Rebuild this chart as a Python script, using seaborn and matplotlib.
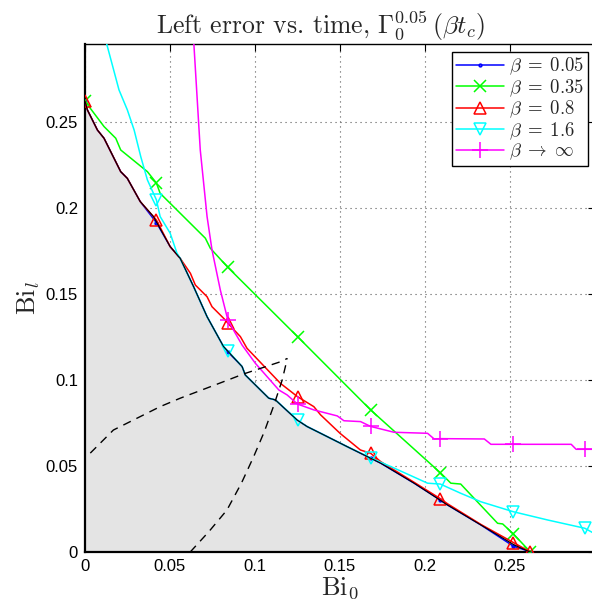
import numpy as np
import matplotlib
matplotlib.use("Agg")
import matplotlib.pyplot as plt
import seaborn as sns

# ---------------- data ----------------
bound_x = [0, 0.0014, 0.0073, 0.0112, 0.021, 0.0249, 0.0325, 0.0403, 0.0501, 0.056,
           0.0639, 0.0718, 0.0815, 0.0924, 0.0943, 0.1081, 0.112, 0.1248, 0.1307,
           0.1386, 0.1543, 0.174, 0.1936, 0.2133, 0.2329, 0.2525, 0.2594, 0.262]
bound_y = [0.262, 0.257, 0.2453, 0.2405, 0.2211, 0.2172, 0.2037, 0.195, 0.1775, 0.1707,
           0.1542, 0.1368, 0.1194, 0.1078, 0.1029, 0.0894, 0.0884, 0.0767, 0.0729,
           0.069, 0.0612, 0.0516, 0.04, 0.0273, 0.0157, 0.0041, 0.001, 0.0]

b005_x = [0, 0.0014, 0.0073, 0.0112, 0.021, 0.0249, 0.0325, 0.042, 0.0501, 0.056,
          0.0639, 0.0718, 0.0815, 0.084, 0.0924, 0.0943, 0.1081, 0.112, 0.1248, 0.1307,
          0.1386, 0.1543, 0.168, 0.174, 0.1936, 0.209, 0.2133, 0.2329, 0.252, 0.2594, 0.262]
b005_y = [0.262, 0.257, 0.2453, 0.2405, 0.2211, 0.2172, 0.2037, 0.1915, 0.1775, 0.1707,
          0.1542, 0.1368, 0.1194, 0.1164, 0.1078, 0.1029, 0.0894, 0.0884, 0.0767, 0.0729,
          0.069, 0.0612, 0.0545, 0.0516, 0.04, 0.0302, 0.0273, 0.0157, 0.0034, 0.001, 0.0]

b035_x = [0, 0.0112, 0.0181, 0.021, 0.0367, 0.042, 0.0442, 0.0708, 0.0737, 0.084,
          0.125, 0.168, 0.209, 0.2152, 0.221, 0.2427, 0.2457, 0.252, 0.262]
b035_y = [0.262, 0.2473, 0.2405, 0.2337, 0.2211, 0.2145, 0.2085, 0.1824, 0.1766, 0.1655,
          0.1252, 0.0826, 0.0461, 0.04, 0.0395, 0.0167, 0.0163, 0.0105, 0.0]

b08_x = [0, 0.0014, 0.0073, 0.0112, 0.021, 0.0249, 0.0325, 0.042, 0.0501, 0.056,
         0.062, 0.0649, 0.0718, 0.0747, 0.0825, 0.084, 0.0914, 0.0953, 0.115, 0.125,
         0.1346, 0.1386, 0.15, 0.162, 0.168, 0.174, 0.1936, 0.209, 0.2133, 0.2329,
         0.252, 0.262]
b08_y = [0.262, 0.257, 0.2453, 0.2405, 0.2211, 0.2172, 0.2037, 0.193, 0.1775, 0.1707,
         0.162, 0.1552, 0.1484, 0.1426, 0.1349, 0.133, 0.1252, 0.1184, 0.098, 0.0903,
         0.0845, 0.0797, 0.069, 0.0593, 0.0574, 0.0525, 0.0405, 0.031, 0.028, 0.016,
         0.0055, 0.0]

b16_x = [0.0115, 0.02, 0.0249, 0.0289, 0.0328, 0.0367, 0.042, 0.0442, 0.0501, 0.0541,
         0.056, 0.0639, 0.0718, 0.0815, 0.084, 0.0924, 0.0943, 0.1081, 0.112, 0.125,
         0.1307, 0.1386, 0.1543, 0.168, 0.18, 0.2015, 0.209, 0.2211, 0.2329, 0.252,
         0.2722, 0.294, 0.3]
b16_y = [0.30, 0.2686, 0.257, 0.2453, 0.2298, 0.2163, 0.2047, 0.195, 0.1853, 0.1737,
         0.1707, 0.1542, 0.1368, 0.1194, 0.117, 0.1078, 0.1029, 0.0894, 0.0884, 0.0767,
         0.0729, 0.069, 0.0612, 0.0547, 0.0496, 0.04, 0.0395, 0.0341, 0.0292, 0.0234,
         0.0186, 0.0138, 0.0105]

binf_x = [0.0635, 0.0639, 0.0678, 0.0718, 0.0747, 0.0796, 0.084, 0.0884, 0.0924, 0.1002,
          0.114, 0.1189, 0.125, 0.1346, 0.1484, 0.1523, 0.1621, 0.168, 0.1818, 0.2015,
          0.2054, 0.209, 0.2349, 0.2388, 0.252, 0.286, 0.2889, 0.294, 0.3]
binf_y = [0.30, 0.2977, 0.2337, 0.195, 0.1756, 0.1523, 0.135, 0.1272, 0.1203, 0.1097,
          0.0942, 0.0913, 0.086, 0.0826, 0.0791, 0.0763, 0.0758, 0.073, 0.0696, 0.069,
          0.0657, 0.0659, 0.0657, 0.0626, 0.0626, 0.0626, 0.0597, 0.0597, 0.0597]

marker_x = [0, 0.042, 0.084, 0.125, 0.168, 0.209, 0.252, 0.262, 0.294]

dash1_x = [0.0, 0.0, 0.001, 0.0167, 0.0442, 0.056, 0.0815, 0.0933, 0.115, 0.119]
dash1_y = [0.0, 0.0554, 0.0554, 0.0709, 0.0845, 0.0894, 0.099, 0.1035, 0.1106, 0.1125]
dash2_x = [0.0619, 0.073, 0.0835, 0.092, 0.0992, 0.1055, 0.111, 0.116, 0.119]
dash2_y = [0.0, 0.012, 0.0244, 0.04, 0.0554, 0.07, 0.085, 0.1, 0.1125]

labels = [r"$\beta\;=\;0.05$", r"$\beta\;=\;0.35$", r"$\beta\;=\;0.8$", r"$\beta\;=\;1.6$",
          r"$\beta\;\rightarrow\;\infty$"]
title = r"Left error vs. time, $\Gamma_0^{0.05}\,(\beta t_c)$"
xticks = [0, 0.05, 0.1, 0.15, 0.2, 0.25]
yticks = [0, 0.05, 0.1, 0.15, 0.2, 0.25]
xtick_labels = ["0", "0.05", "0.1", "0.15", "0.2", "0.25"]
ytick_labels = ["0", "0.05", "0.1", "0.15", "0.2", "0.25"]

# ---------------- styling ----------------
sns.set_style("white")
plt.rcParams["font.family"] = ["Liberation Sans", "DejaVu Sans"]
plt.rcParams["mathtext.fontset"] = "cm"

fig = plt.figure(figsize=(5.92, 6.14), dpi=100)
ax = fig.add_axes([85 / 592, 62 / 614, 510 / 592, 508 / 614])

ax.set_xlim(0, 0.3)
ax.set_ylim(0, 0.2953)

ax.set_axisbelow(True)
ax.grid(True, color="0.35", linestyle=(0, (1, 3.5)), linewidth=0.8)

ax.fill_between(bound_x, bound_y, 0, color="#e4e4e4", linewidth=0, zorder=1)

def mask(xs):
    return [bool(np.any(np.isclose(v, marker_x, atol=1e-6))) for v in xs]

handles = []
series = [
    (b005_x, b005_y, "#0000ff", ".", 4, labels[0]),
    (b035_x, b035_y, "#00ff00", "x", 8, labels[1]),
    (b08_x, b08_y, "#ff0000", "^", 9, labels[2]),
    (b16_x, b16_y, "#00ffff", "v", 9, labels[3]),
    (binf_x, binf_y, "#ff00ff", "+", 11, labels[4]),
]
for xs, ys, c, m, ms, lab in series:
    sns.lineplot(x=xs, y=ys, sort=False, estimator=None, color=c, marker=m,
                 markevery=mask(xs), markersize=ms, markerfacecolor="none",
                 markeredgecolor=c, markeredgewidth=1.1, linewidth=1.1,
                 label=lab, ax=ax, zorder=3, legend=False)
    handles.append(ax.lines[-1])

# black boundary on top of the beta = 0.05 line
sns.lineplot(x=bound_x, y=bound_y, sort=False, estimator=None, color="black",
             linewidth=0.8, ax=ax, zorder=4, legend=False)

for dx, dy in [(dash1_x, dash1_y), (dash2_x, dash2_y)]:
    sns.lineplot(x=dx, y=dy, sort=False, estimator=None, color="black",
                 linewidth=1.0, linestyle=(0, (6, 4.5)), ax=ax, zorder=4, legend=False)

ax.set_xticks(xticks)
ax.set_xticklabels(xtick_labels)
ax.set_yticks(yticks)
ax.set_yticklabels(ytick_labels)
ax.tick_params(direction="in", length=5, width=0.8, top=True, right=True,
               labelsize=12, pad=5, colors="black")
for s in ax.spines.values():
    s.set_visible(True)
    s.set_color("black")
    s.set_linewidth(1.0)
ax.spines["left"].set_linewidth(1.6)
ax.spines["bottom"].set_linewidth(1.6)

ax.set_xlabel(r"$\mathrm{Bi}_0$", fontsize=19, labelpad=1)
ax.set_ylabel(r"$\mathrm{Bi}_l$", fontsize=19, labelpad=3)
ax.set_title(title, fontsize=18.5, family="cmr10", x=(320 - 85) / 510, pad=7)

leg = ax.legend(handles=handles, labels=labels, loc="upper right",
                bbox_to_anchor=(503 / 510, 500 / 508), borderaxespad=0,
                fontsize=13.5, frameon=True, fancybox=False, framealpha=1,
                edgecolor="black", handlelength=2.6, handletextpad=0.25,
                labelspacing=0.0, borderpad=0.2)
leg.get_frame().set_linewidth(1.0)
leg.set_zorder(10)

fig.savefig("out.png", dpi=100)
